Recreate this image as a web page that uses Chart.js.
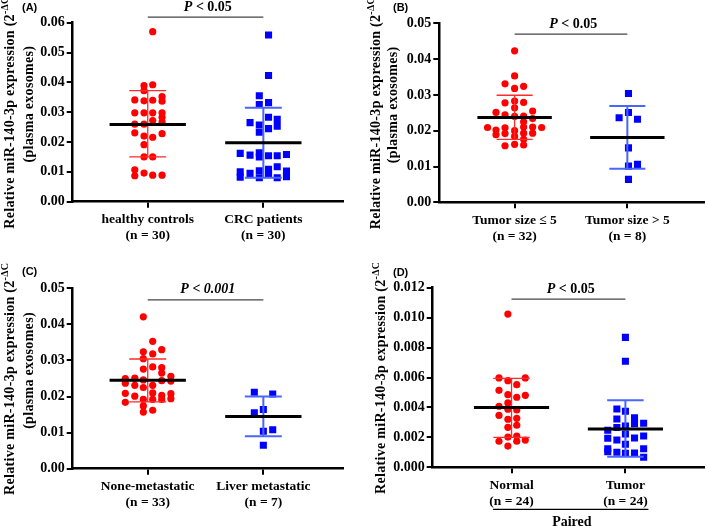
<!DOCTYPE html>
<html>
<head>
<meta charset="utf-8">
<script src="https://cdn.jsdelivr.net/npm/chart.js@4.4.1/dist/chart.umd.min.js"></script>
<style>
  body { margin: 0; background: #fff; }
  #wrap { position: relative; width: 709px; height: 526px; }
  canvas { position: absolute; }
</style>
</head>
<body>
<div id="wrap">
  <canvas id="pA" width="354" height="263" style="left:0;top:0"></canvas>
  <canvas id="pB" width="355" height="263" style="left:354px;top:0"></canvas>
  <canvas id="pC" width="354" height="263" style="left:0;top:263px"></canvas>
  <canvas id="pD" width="355" height="263" style="left:354px;top:263px"></canvas>
</div>
<script>
// ---- data ----
// (A) healthy controls vs CRC patients
const aCategories = [['healthy controls', '(n = 30)'], ['CRC patients', '(n = 30)']]
const aHealthyX = [1.043, 0.968, 1.043, 0.968, 0.888, 0.968, 1.043, 1.124, 1.124, 0.888,
                   0.968, 1.043, 1.124, 1.124, 1.043, 1.124, 0.888, 0.968, 0.888, 0.968,
                   1.043, 1.124, 0.968, 0.968, 1.043, 0.888, 0.968, 0.888, 1.043, 1.124]
const aHealthyY = [0.0570, 0.0389, 0.0392, 0.0372, 0.0341, 0.0338, 0.0340, 0.0352, 0.0337, 0.0298,
                   0.0298, 0.0298, 0.0298, 0.0283, 0.0272, 0.0267, 0.0260, 0.0260, 0.0231, 0.0220,
                   0.0216, 0.0228, 0.0191, 0.0150, 0.0150, 0.0107, 0.0096, 0.0087, 0.0089, 0.0089]
const aCrcX = [2.045, 2.045, 1.965, 1.965, 2.045, 1.885, 1.965, 2.045, 2.12, 1.965,
               2.045, 2.12, 1.80, 1.885, 1.965, 1.965, 2.045, 2.12, 2.20, 2.12,
               2.045, 2.045, 1.965, 1.885, 1.80, 1.80, 2.20, 2.20, 1.965, 2.12]
const aCrcY = [0.0559, 0.0423, 0.0355, 0.0326, 0.0332, 0.0265, 0.0257, 0.0283, 0.0276, 0.0233,
               0.0245, 0.0253, 0.0162, 0.0156, 0.0164, 0.0150, 0.0154, 0.0154, 0.0158, 0.0117,
               0.0109, 0.0092, 0.0104, 0.0095, 0.0100, 0.0082, 0.0103, 0.0084, 0.0080, 0.0080]
const aMean = [0.0259, 0.0198]
const aSdHigh = [0.0372, 0.0315]
const aSdLow = [0.0150, 0.0080]
const aYTicks = [0, 0.01, 0.02, 0.03, 0.04, 0.05, 0.06]

// (B) tumor size
const bCategories = [['Tumor size \u2264 5', '(n = 32)'], ['Tumor size > 5', '(n = 8)']]
const bSmallX = [1.0, 1.0, 0.915, 1.0, 1.08, 0.915, 1.0, 1.08, 1.0, 0.835,
                 0.915, 1.0, 1.08, 1.16, 1.16, 1.08, 0.76, 0.835, 0.915, 1.0,
                 1.08, 1.16, 1.24, 0.835, 0.915, 1.0, 1.08, 1.16, 0.915, 1.0,
                 1.08, 1.08]
const bSmallY = [0.0423, 0.0353, 0.0331, 0.0318, 0.0324, 0.0278, 0.0283, 0.0279, 0.0264, 0.0251,
                 0.0244, 0.0240, 0.0241, 0.0255, 0.0234, 0.0225, 0.0209, 0.0202, 0.0208, 0.0200,
                 0.0210, 0.0210, 0.0209, 0.0189, 0.0192, 0.0184, 0.0193, 0.0193, 0.0158, 0.0162,
                 0.0160, 0.0176]
const bLargeX = [2.01, 2.01, 1.927, 2.09, 2.01, 2.01, 2.09, 2.01]
const bLargeY = [0.0304, 0.0251, 0.0236, 0.0232, 0.0152, 0.0101, 0.0106, 0.0064]
const bMean = [0.0237, 0.0181]
const bSdHigh = [0.0299, 0.0269]
const bSdLow = [0.0176, 0.0094]
const bYTicks = [0, 0.01, 0.02, 0.03, 0.04, 0.05]

// (C) metastasis
const cCategories = [['None-metastatic', '(n = 33)'], ['Liver metastatic', '(n = 7)']]
const cNoneX = [0.962, 1.043, 1.121, 0.962, 1.043, 0.962, 1.043, 1.121, 0.962, 1.121,
                1.2, 0.888, 0.806, 0.962, 1.121, 1.2, 0.806, 0.888, 1.043, 0.962,
                0.806, 1.043, 1.121, 1.2, 0.888, 1.2, 0.962, 1.043, 1.121, 0.806,
                0.962, 0.962, 1.043]
const cNoneY = [0.0421, 0.0353, 0.0330, 0.0324, 0.0318, 0.0305, 0.0282, 0.0280, 0.0276, 0.0265,
                0.0256, 0.0251, 0.0250, 0.0246, 0.0244, 0.0243, 0.0237, 0.0231, 0.0231, 0.0225,
                0.0209, 0.0210, 0.0203, 0.0208, 0.0201, 0.0194, 0.0192, 0.0192, 0.0192, 0.0184,
                0.0174, 0.0157, 0.0162]
const cLiverX = [1.922, 2.081, 1.922, 2.0, 2.0, 2.081, 2.0]
const cLiverY = [0.0212, 0.0207, 0.0155, 0.0164, 0.0104, 0.0108, 0.0065]
const cMean = [0.0245, 0.0145]
const cSdHigh = [0.0304, 0.0200]
const cSdLow = [0.0185, 0.0090]
const cYTicks = [0, 0.01, 0.02, 0.03, 0.04, 0.05]

// (D) paired tissue
const dCategories = [['Normal', '(n = 24)'], ['Tumor', '(n = 24)']]
const dNormalX = [0.968, 0.89, 0.968, 1.121, 1.046, 0.89, 0.968, 1.046, 1.121, 0.968,
                  0.89, 0.968, 1.046, 0.89, 0.968, 1.046, 0.968, 1.046, 0.968, 1.046,
                  0.89, 1.046, 1.121, 0.968]
const dNormalY = [0.01024, 0.00597, 0.00579, 0.00597, 0.00552, 0.00514, 0.00485, 0.00468, 0.00481, 0.00430,
                  0.00408, 0.00388, 0.00383, 0.00347, 0.00321, 0.00327, 0.00267, 0.00281, 0.00202, 0.00209,
                  0.00174, 0.00174, 0.00182, 0.00142]
const dTumorX = [2.0, 2.0, 1.925, 2.0, 1.925, 2.08, 2.16, 2.08, 2.0, 1.925,
                 1.845, 2.0, 2.16, 2.08, 1.845, 1.925, 2.0, 1.845, 2.16, 1.845,
                 1.925, 2.0, 2.08, 2.16]
const dTumorY = [0.00868, 0.00708, 0.00389, 0.00374, 0.00323, 0.00330, 0.00294, 0.00292, 0.00276, 0.00266,
                 0.00247, 0.00222, 0.00209, 0.00196, 0.00194, 0.00182, 0.00154, 0.00124, 0.00124, 0.00104,
                 0.00100, 0.00094, 0.00096, 0.00067]
const dMean = [0.00399, 0.00256]
const dSdHigh = [0.00594, 0.00448]
const dSdLow = [0.00200, 0.00070]
const dYTicks = [0, 0.002, 0.004, 0.006, 0.008, 0.010, 0.012]

const pTexts = ['< 0.05', '< 0.05', '< 0.001', '< 0.05']
const bracketY = [0.0619, 0.0470, 0.0468, 0.01124]

// ---- look ----
const SERIF = '"Liberation Serif", "Times New Roman", serif'
const RED = '#ff0000'
const BLUE = '#0000ff'
const RED_BAR = '#ff2a2a'
const BLUE_BAR = '#4a66ff'
const MEAN_HALF = 0.33
const CAP_HALF = 0.16

function titleLine(ctx, x, cy, main, withSup) {
    ctx.save()
    ctx.translate(x, cy)
    ctx.rotate(-Math.PI / 2)
    ctx.fillStyle = '#000'
    ctx.textBaseline = 'middle'
    ctx.textAlign = 'left'
    ctx.letterSpacing = '0.3px'
    const big = 'bold 14px ' + SERIF
    const small = 'bold 10px ' + SERIF
    ctx.font = big
    let w = ctx.measureText(main).width
    let supW = 0, closeW = 0
    if (withSup) {
        ctx.font = small
        supW = ctx.measureText('-\u0394Ct').width
        ctx.font = big
        closeW = ctx.measureText(')').width
    }
    let sx = -(w + supW + closeW) / 2
    ctx.fillText(main, sx, 0)
    if (withSup) {
        ctx.font = small
        ctx.fillText('-\u0394Ct', sx + w, -5)
        ctx.font = big
        ctx.fillText(')', sx + w + supW, 0)
    }
    ctx.restore()
}

function decor(p) {
    return {
        id: 'decor' + p.label,
        afterDatasetsDraw(chart) {
            const {ctx, scales: {x, y}} = chart
            p.mean.forEach((m, i) => {
                const c = i + 1
                const xc = x.getPixelForValue(c)
                const yh = y.getPixelForValue(p.sdHigh[i])
                const yl = y.getPixelForValue(p.sdLow[i])
                ctx.save()
                ctx.strokeStyle = i === 0 ? RED_BAR : BLUE_BAR
                ctx.lineWidth = i === 0 ? 1.3 : 2
                ctx.beginPath()
                ctx.moveTo(xc, yh); ctx.lineTo(xc, yl)
                ctx.moveTo(x.getPixelForValue(c - CAP_HALF), yh); ctx.lineTo(x.getPixelForValue(c + CAP_HALF), yh)
                ctx.moveTo(x.getPixelForValue(c - CAP_HALF), yl); ctx.lineTo(x.getPixelForValue(c + CAP_HALF), yl)
                ctx.stroke()
                ctx.strokeStyle = '#000'
                ctx.lineWidth = 3
                ctx.beginPath()
                ctx.moveTo(x.getPixelForValue(c - MEAN_HALF), y.getPixelForValue(m))
                ctx.lineTo(x.getPixelForValue(c + MEAN_HALF), y.getPixelForValue(m))
                ctx.stroke()
                ctx.restore()
            })
        },
        afterDraw(chart) {
            const {ctx, chartArea, scales: {x, y}} = chart
            const cy = (chartArea.top + chartArea.bottom) / 2 - 4
            // axis title
            titleLine(ctx, p.titleX[0], cy, 'Relative miR-140-3p expression (2', true)
            if (p.titleX.length > 1) titleLine(ctx, p.titleX[1], cy - 4, '(plasma exosomes)', false)
            // panel letter
            ctx.save()
            ctx.fillStyle = '#000'
            ctx.font = 'bold 11px "Liberation Sans", Arial, sans-serif'
            ctx.textBaseline = 'middle'
            ctx.fillText('(' + p.label + ')', p.labelPos[0], p.labelPos[1])
            // significance bracket
            const by = y.getPixelForValue(p.bracket)
            ctx.strokeStyle = '#444'
            ctx.lineWidth = 1.3
            ctx.beginPath()
            ctx.moveTo(x.getPixelForValue(1), by)
            ctx.lineTo(x.getPixelForValue(2), by)
            ctx.stroke()
            const italic = 'italic bold 14px ' + SERIF
            const plain = (p.allItalic ? 'italic ' : '') + 'bold 14px ' + SERIF
            ctx.font = italic
            const wP = ctx.measureText('P ').width
            ctx.font = plain
            const wR = ctx.measureText(p.pText).width
            let sx = x.getPixelForValue(1.52) - (wP + wR) / 2
            ctx.textAlign = 'left'
            ctx.font = italic
            ctx.fillText('P ', sx, by - 10)
            ctx.font = plain
            ctx.fillText(p.pText, sx + wP, by - 10)
            // paired bracket under the categories
            if (p.paired) {
                const ly = chartArea.bottom + 42
                ctx.strokeStyle = '#000'
                ctx.lineWidth = 1.2
                ctx.beginPath()
                ctx.moveTo(x.getPixelForValue(0.838), ly)
                ctx.lineTo(x.getPixelForValue(2.202), ly)
                ctx.stroke()
                ctx.font = 'bold 14px ' + SERIF
                ctx.textAlign = 'center'
                ctx.fillText('Paired', x.getPixelForValue(1.53), ly + 13)
            }
            ctx.restore()
        }
    }
}

function makePanel(id, p) {
    const xFont = {family: SERIF, weight: 'bold', size: 13.5}
    const yFont = {family: SERIF, weight: 'bold', size: 14}
    new Chart(document.getElementById(id), {
        type: 'scatter',
        data: {
            datasets: [{
                data: p.x1.map((v, i) => ({x: v, y: p.y1[i]})),
                pointStyle: 'circle',
                pointRadius: 3.6,
                backgroundColor: RED,
                borderWidth: 0
            }, {
                data: p.x2.map((v, i) => ({x: v, y: p.y2[i]})),
                pointStyle: 'rect',
                pointRadius: 5,
                backgroundColor: BLUE,
                borderWidth: 0
            }]
        },
        options: {
            responsive: false,
            animation: false,
            layout: {padding: {top: p.top, right: p.right, left: 0, bottom: 0}},
            plugins: {legend: {display: false}, tooltip: {enabled: false}},
            scales: {
                x: {
                    type: 'linear',
                    min: p.xMin,
                    max: p.xMax,
                    afterBuildTicks: s => { s.ticks = [{value: 1}, {value: 2}] },
                    afterFit: s => { s.height = p.bottom },
                    ticks: {
                        callback: v => p.categories[Math.round(v) - 1],
                        font: xFont, color: '#000', padding: 4,
                        maxRotation: 0, autoSkip: false
                    },
                    grid: {drawOnChartArea: false, tickLength: 6, color: '#000', lineWidth: 2},
                    border: {color: '#000', width: 2.5}
                },
                y: {
                    min: 0,
                    max: p.yTicks[p.yTicks.length - 1],
                    afterBuildTicks: s => { s.ticks = p.yTicks.map(v => ({value: v})) },
                    afterFit: s => { s.width = p.left },
                    ticks: {
                        callback: v => v.toFixed(p.dec),
                        font: yFont, color: '#000', padding: 2
                    },
                    grid: {drawOnChartArea: false, tickLength: 6, color: '#000', lineWidth: 2},
                    border: {color: '#000', width: 2.5}
                }
            }
        },
        plugins: [decor(p)]
    })
}

makePanel('pA', {
    label: 'A', categories: aCategories,
    x1: aHealthyX, y1: aHealthyY, x2: aCrcX, y2: aCrcY,
    mean: aMean, sdHigh: aSdHigh, sdLow: aSdLow, yTicks: aYTicks, dec: 2,
    pText: pTexts[0], allItalic: false, bracket: bracketY[0],
    left: 72.7, top: 22.7, right: 11, bottom: 61.3, xMin: 0.351, xMax: 2.689,
    titleX: [10.7, 29], labelPos: [22, 8]
})
makePanel('pB', {
    label: 'B', categories: bCategories,
    x1: bSmallX, y1: bSmallY, x2: bLargeX, y2: bLargeY,
    mean: bMean, sdHigh: bSdHigh, sdLow: bSdLow, yTicks: bYTicks, dec: 2,
    pText: pTexts[1], allItalic: false, bracket: bracketY[1],
    left: 85.3, top: 23.3, right: 1, bottom: 60.7, xMin: 0.332, xMax: 2.68,
    titleX: [22.7, 39.3], labelPos: [39, 8]
})
makePanel('pC', {
    label: 'C', categories: cCategories,
    x1: cNoneX, y1: cNoneY, x2: cLiverX, y2: cLiverY,
    mean: cMean, sdHigh: cSdHigh, sdLow: cSdLow, yTicks: cYTicks, dec: 2,
    pText: pTexts[2], allItalic: true, bracket: bracketY[2],
    left: 72.7, top: 25.3, right: 11, bottom: 57.3, xMin: 0.351, xMax: 2.689,
    titleX: [10.7, 29], labelPos: [22, 9]
})
makePanel('pD', {
    label: 'D', categories: dCategories,
    x1: dNormalX, y1: dNormalY, x2: dTumorX, y2: dTumorY,
    mean: dMean, sdHigh: dSdHigh, sdLow: dSdLow, yTicks: dYTicks, dec: 3,
    pText: pTexts[3], allItalic: false, bracket: bracketY[3], paired: true,
    left: 78.7, top: 24.7, right: 1, bottom: 58.7, xMin: 0.308, xMax: 2.69,
    titleX: [27.7], labelPos: [39, 10]
})
</script>
</body>
</html>
